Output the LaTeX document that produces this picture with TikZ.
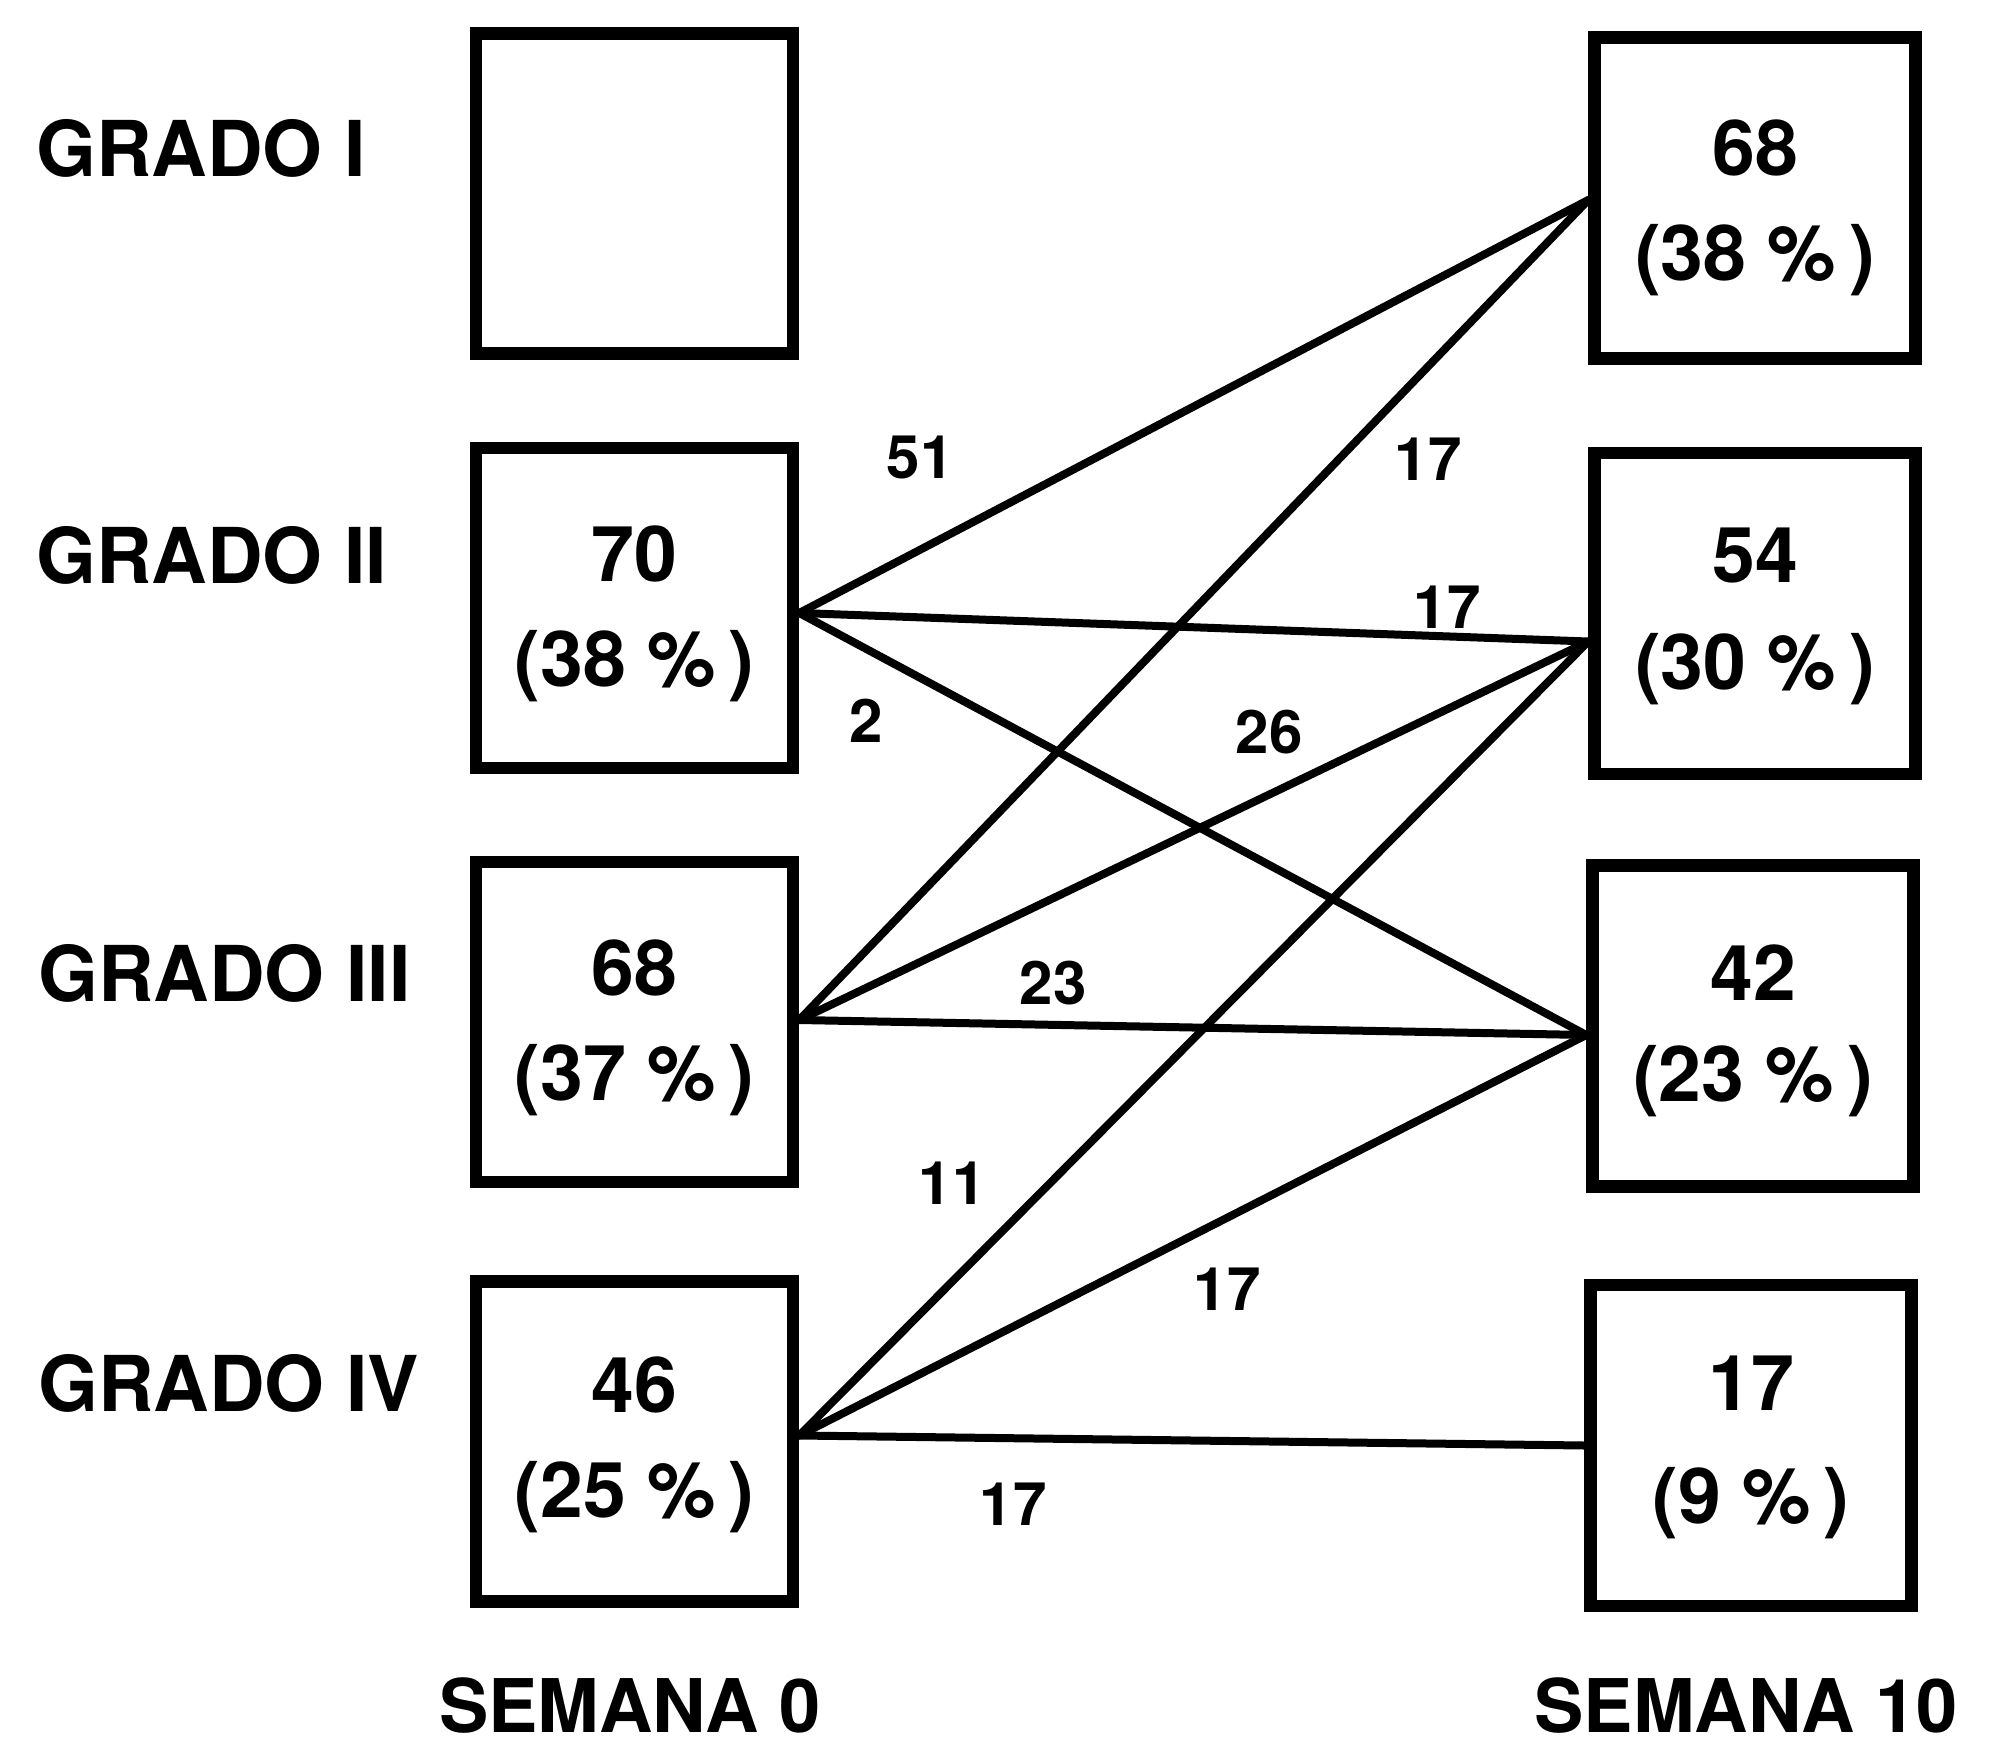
\documentclass[tikz,border=0pt]{standalone}
\usepackage{fontspec}
\setmainfont{TeX Gyre Heros}
\usetikzlibrary{calc}
\begin{document}
\begin{tikzpicture}[x=1pt,y=-1pt,
  box/.style={rectangle, draw, line width=12.5pt, minimum width=317pt, minimum height=320pt, inner sep=0pt},
  rbox/.style={box, minimum width=321pt, minimum height=321pt},
  grado/.style={anchor=west, font=\fontsize{77}{77}\selectfont\bfseries, inner sep=0pt},
  num/.style={font=\fontsize{77}{77}\selectfont\bfseries, inner sep=0pt},
  elabel/.style={font=\fontsize{60}{60}\selectfont\bfseries, inner sep=0pt},
  semana/.style={font=\fontsize{74}{74}\selectfont\bfseries, inner sep=0pt},
  flow/.style={line width=8pt, line cap=round}]
\useasboundingbox (0,0) rectangle (1990,1753);

% boxes
\node[box] (L1) at (634.5,193.5) {};
\node[box] (L2) at (634.5,608) {};
\node[box] (L3) at (634.5,1022) {};
\node[box] (L4) at (634.5,1441.5) {};
\node[rbox] (R1) at (1755,198) {};
\node[rbox] (R2) at (1755,613.5) {};
\node[rbox] (R3) at (1753,1026) {};
\node[rbox] (R4) at (1751,1445.5) {};

% row labels
\node[grado] (g1) at (36,148) {GRADO I};
\node[grado] (g2) at (36,555) {GRADO II};
\node[grado] (g3) at (38,973) {GRADO III};
\node[grado] (g4) at (38,1383) {GRADO IV};

% box contents
\node[num] (nL2) at ($(L2)+(0,-54)$) {70};
\node[num] (pL2) at ($(L2)+(0,58)$) {(38 \%\,)};
\node[num] (nL3) at ($(L3)+(0,-54)$) {68};
\node[num] (pL3) at ($(L3)+(0,58)$) {(37 \%\,)};
\node[num] (nL4) at ($(L4)+(0,-57)$) {46};
\node[num] (pL4) at ($(L4)+(0,56)$) {(25 \%\,)};
\node[num] (nR1) at ($(R1)+(0,-50)$) {68};
\node[num] (pR1) at ($(R1)+(0,62)$) {(38 \%\,)};
\node[num] (nR2) at ($(R2)+(0,-58)$) {54};
\node[num] (pR2) at ($(R2)+(0,56)$) {(30 \%\,)};
\node[num] (nR3) at ($(R3)+(0,-53)$) {42};
\node[num] (pR3) at ($(R3)+(0,55)$) {(23 \%\,)};
\node[num] (nR4) at ($(R4)+(0,-62)$) {17};
\node[num] (pR4) at ($(R4)+(0,58)$) {(9 \%\,)};

% connector end points
\coordinate (l2o) at ($(L2.east)+(0,5)$);
\coordinate (l3o) at ($(L3.east)+(0,-2)$);
\coordinate (l4o) at ($(L4.east)+(0,-6)$);
\coordinate (r1i) at ($(R1.west)+(0,2)$);
\coordinate (r2i) at ($(R2.west)+(0,28)$);
\coordinate (r3i) at ($(R3.west)+(0,9)$);
\coordinate (r4i) at ($(R4.west)+(0,0)$);

% connectors
\draw[flow] (l2o) -- (r1i);
\draw[flow] (l2o) -- (r2i);
\draw[flow] (l2o) -- (r3i);
\draw[flow] (l3o) -- (r1i);
\draw[flow] (l3o) -- (r2i);
\draw[flow] (l3o) -- (r3i);
\draw[flow] (l4o) -- (r2i);
\draw[flow] (l4o) -- (r3i);
\draw[flow] (l4o) -- (r4i);

% connector labels
\node[elabel] (e51) at (920,457) {51};
\node[elabel] (e17a) at (1428,459) {17};
\node[elabel] (e17b) at (1447,607) {17};
\node[elabel] (e2) at (866,721) {2};
\node[elabel] (e26) at (1269,732) {26};
\node[elabel] (e23) at (1053,983) {23};
\node[elabel] (e11) at (952,1183) {11};
\node[elabel] (e17c) at (1227,1289) {17};
\node[elabel] (e17d) at (1013,1504) {17};

% column labels
\node[semana] (s0) at (630,1706) {SEMANA 0};
\node[semana] (s10) at (1746,1706) {SEMANA 10};
\end{tikzpicture}
\end{document}
